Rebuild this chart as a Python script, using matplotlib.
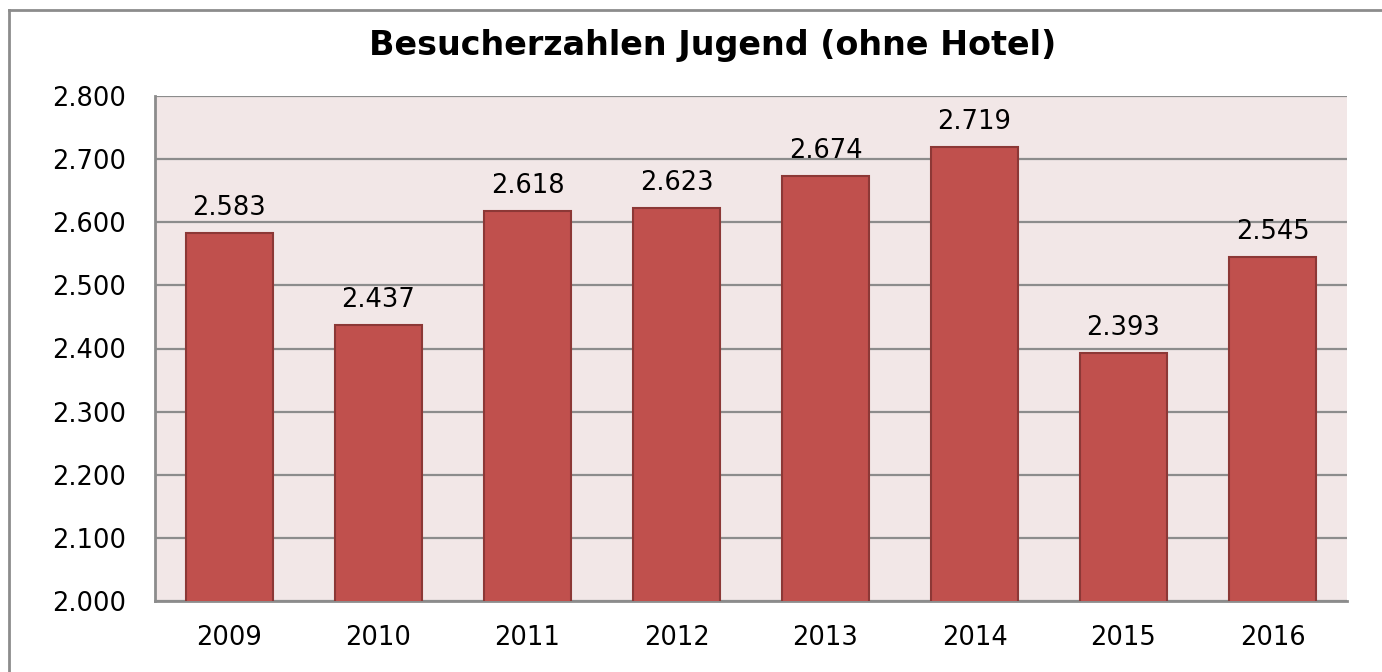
import matplotlib
matplotlib.use('Agg')
import matplotlib.pyplot as plt
from matplotlib.lines import Line2D
from matplotlib.ticker import FuncFormatter

# data
years = ['2009', '2010', '2011', '2012', '2013', '2014', '2015', '2016']
visitors = [2583, 2437, 2618, 2623, 2674, 2719, 2393, 2545]
y_ticks = [2000, 2100, 2200, 2300, 2400, 2500, 2600, 2700, 2800]

def de_fmt(v, pos=None):
    # german thousands separator
    return f"{int(v):,}".replace(',', '.')

plt.rcParams['font.family'] = ['DejaVu Sans']

fig = plt.figure(figsize=(13.82, 6.72), dpi=100)

# outer chart border, only top and left edge visible
bx, by = 9/1382, 1 - 10/672
fig.add_artist(Line2D([bx, 1.0], [by, by], transform=fig.transFigure,
                      color='#8c8c8c', linewidth=2))
fig.add_artist(Line2D([bx, bx], [0.0, by], transform=fig.transFigure,
                      color='#8c8c8c', linewidth=2))

ax = fig.add_axes([155/1382, 1 - 601/672, (1347-155)/1382, (601-96)/672])
ax.set_facecolor('#f2e7e7')

x = range(len(years))
ax.bar(x, visitors, width=0.58, color='#c0504d', edgecolor='#8c3836',
       linewidth=1.5, zorder=3)

for xi, v in zip(x, visitors):
    ax.annotate(de_fmt(v), (xi, v), xytext=(0, 18), textcoords='offset points',
                ha='center', va='center', fontsize=18.5)

ax.set_xlim(-0.5, len(years) - 0.5)
ax.set_ylim(2000, 2800)
ax.set_yticks(y_ticks)
ax.yaxis.set_major_formatter(FuncFormatter(de_fmt))
ax.set_xticks(list(x))
ax.set_xticklabels(years)
ax.tick_params(axis='both', length=0, labelsize=18.5, colors='black')
ax.tick_params(axis='y', pad=21)
ax.tick_params(axis='x', pad=17)

ax.grid(axis='y', color='#8c8c8c', linewidth=1.6, zorder=1)
for side in ['top', 'right']:
    ax.spines[side].set_visible(False)
for side in ['left', 'bottom']:
    ax.spines[side].set_color('#8c8c8c')
    ax.spines[side].set_linewidth(2)

fig.text(713/1382, 1 - 45/672, 'Besucherzahlen Jugend (ohne Hotel)',
         ha='center', va='center', fontsize=24, fontweight='bold')

fig.savefig('out.png', dpi=100)
